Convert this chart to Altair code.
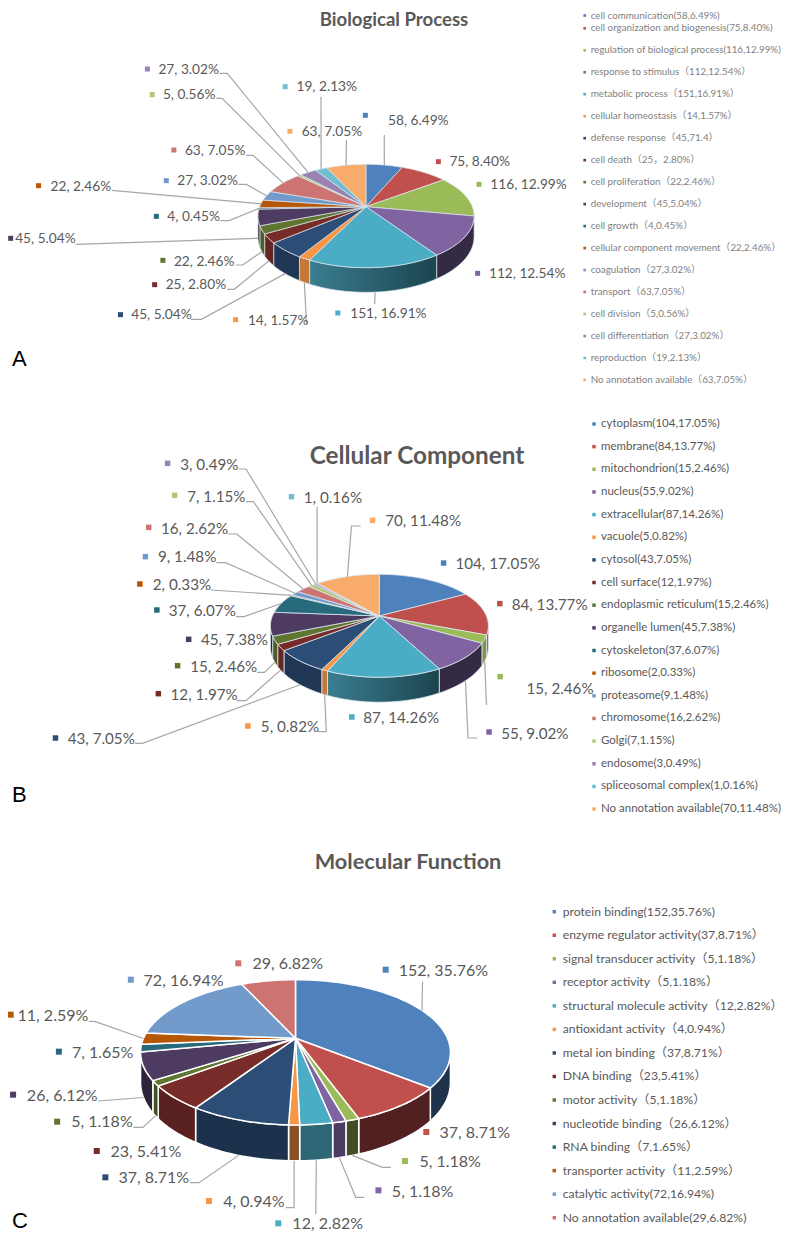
import math
import altair as alt
import pandas as pd

# ---------- data ----------
bp_names = ["cell communication(58,6.49%)", "cell organization and biogenesis(75,8.40%)",
            "regulation of biological process(116,12.99%)", "response to stimulus（112,12.54%）",
            "metabolic process（151,16.91%）", "cellular homeostasis（14,1.57%）",
            "defense response（45,71.4）", "cell death（25，2.80%）", "cell proliferation（22,2.46%）",
            "development（45,5.04%）", "cell growth（4,0.45%）", "cellular component movement（22,2.46%）",
            "coagulation（27,3.02%）", "transport（63,7.05%）", "cell division（5,0.56%）",
            "cell differentiation（27,3.02%）", "reproduction（19,2.13%）", "No annotation available（63,7.05%）"]
bp_values = [58, 75, 116, 112, 151, 14, 45, 25, 22, 45, 4, 22, 27, 63, 5, 27, 19, 63]
bp_pct = ["6.49", "8.40", "12.99", "12.54", "16.91", "1.57", "5.04", "2.80", "2.46", "5.04", "0.45",
          "2.46", "3.02", "7.05", "0.56", "3.02", "2.13", "7.05"]

cc_names = ["cytoplasm(104,17.05%)", "membrane(84,13.77%)", "mitochondrion(15,2.46%)", "nucleus(55,9.02%)",
            "extracellular(87,14.26%)", "vacuole(5,0.82%)", "cytosol(43,7.05%)", "cell surface(12,1.97%)",
            "endoplasmic reticulum(15,2.46%)", "organelle lumen(45,7.38%)", "cytoskeleton(37,6.07%)",
            "ribosome(2,0.33%)", "proteasome(9,1.48%)", "chromosome(16,2.62%)", "Golgi(7,1.15%)",
            "endosome(3,0.49%)", "spliceosomal complex(1,0.16%)", "No annotation available(70,11.48%)"]
cc_values = [104, 84, 15, 55, 87, 5, 43, 12, 15, 45, 37, 2, 9, 16, 7, 3, 1, 70]
cc_pct = ["17.05", "13.77", "2.46", "9.02", "14.26", "0.82", "7.05", "1.97", "2.46", "7.38", "6.07",
          "0.33", "1.48", "2.62", "1.15", "0.49", "0.16", "11.48"]

mf_names = ["protein binding(152,35.76%)", "enzyme regulator activity(37,8.71%）", "signal transducer activity（5,1.18%）",
            "receptor activity（5,1.18%）", "structural molecule activity（12,2.82%）", "antioxidant activity（4,0.94%）",
            "metal ion binding（37,8.71%）", "DNA binding（23,5.41%）", "motor activity（5,1.18%）",
            "nucleotide binding（26,6.12%）", "RNA binding（7,1.65%）", "transporter activity（11,2.59%）",
            "catalytic activity(72,16.94%)", "No annotation available(29,6.82%)"]
mf_values = [152, 37, 5, 5, 12, 4, 37, 23, 5, 26, 7, 11, 72, 29]
mf_pct = ["35.76", "8.71", "1.18", "1.18", "2.82", "0.94", "8.71", "5.41", "1.18", "6.12", "1.65", "2.59",
          "16.94", "6.82"]

# ---------- style ----------
palette = ["#4F81BD", "#C0504D", "#9BBB59", "#8064A2", "#4BACC6", "#F79646",
           "#2C4D75", "#772C2A", "#5F7530", "#4D3B62", "#276A7C", "#B65708",
           "#729ACA", "#CD7371", "#AFC97A", "#9983B5", "#6FBDD1", "#F9AB6B"]
FONT = "Lato, Noto Sans CJK SC"
GREY = "#595959"

# ---------- layout (label marker, label text, leader way-points) ----------
panels = [
    dict(names=bp_names, values=bp_values, pct=bp_pct, cx=366, ay=206.7, a=106.3, b=50, k=.18, D=20.2,
         xf=2.904, y0=0, size=13.7, edge="#dde6ee", ew=.7, msize=25, shade=[.8, .8, .8, .42, .6, .8, .72, .85, .8, .6, .6, .8],
         marks=[(1061,346),(1273,485),(1391,553),(1387,820),(981,939),(684,959),(350,944),(449,854),(473,781),(31,715),(454,649),(112,557),(483,542),(505,450),(442,284),(428,207),(828,260),(842,394)],
         texts=[(1127,363),(1305,487),(1424,555),(1420,821),(1017,941),(720,962),(381,946),(481,855),(505,785),(44,718),(486,651),(147,561),(515,544),(537,454),(473,286),(460,209),(861,262),(876,395)],
         leaders={0:[(1116,405)],4:[(1088,912)],5:[(890,972)],6:[(585,958),(555,958)],7:[(680,868),(660,868)],8:[(705,795),(685,795)],9:[(220,733)],10:[(665,662),(640,662)],11:[(325,571)],12:[(715,553),(692,553)],13:[(735,466),(715,466)],14:[(645,295),(628,295)],15:[(660,220),(638,220)],16:[(932,290)],17:[(1006,420)]},
         title="Biological Process", tx=394, ty=20, tsize=18.6, letter="A", ly=359,
         lx=584.7, ltx=590.7, ly0=6.3, lfirst=15.5, lstep=21.98, lsize=9.8, lcolor="#7f7f7f", lmsize=7),
    dict(names=cc_names, values=cc_values, pct=cc_pct, cx=379.4, ay=616, a=107, b=49.6, k=.19, D=20.2,
         xf=2.703, y0=410, size=15.2, edge="#dde6ee", ew=.8, msize=30, shade=[.8, .8, .8, .42, .6, .8, .72, .85, .8, .6, .6, .8],
         marks=[(1199,459),(1351,581),(1352,800),(1322,966),(951,921),(670,948),(150,984),(428,851),(480,767),(510,688),(424,600),(378,522),(393,440),(402,352),(472,256),(453,160),(788,260),(1007,331)],
         texts=[(1231,462),(1383,584),(1423,838),(1355,971),(982,925),(705,952),(183,987),(461,854),(514,771),(543,691),(456,603),(413,526),(427,441),(435,356),(506,260),(487,164),(821,263),(1041,334)],
         leaders={2:[(1315,885)],3:[(1265,984),(1290,984)],5:[(882,965),(860,965)],6:[(385,1000),(365,1000)],7:[(665,872),(640,872)],8:[(715,787),(695,787)],10:[(660,620),(638,620)],11:[(570,540)],12:[(610,458),(585,458)],13:[(640,372),(615,372)],14:[(685,275),(665,275)],15:[(665,177),(645,177)],16:[(857,290)],17:[(950,348),(975,348)]},
         title="Cellular Component", tx=417, ty=456.7, tsize=24.3, letter="B", ly=795,
         lx=594, ltx=601, ly0=424, lfirst=424, lstep=22.65, lsize=11.5, lcolor=GREY, lmsize=12),
    dict(names=mf_names, values=mf_values, pct=mf_pct, cx=295.5, ay=1038.3, a=152, b=69.9, k=.193, D=29,
         xf=2.904, y0=830, size=16, edge="#ffffff", ew=1.5, msize=36, shade=[.4, .42, .42, .6, .6, .55, .65, .75, .7, .6, .6, .6],
         marks=[(1120,419),(1238,906),(1176,993),(1099,1081),(808,1180),(607,1113),(306,1042),(281,963),(166,875),(38,794),(171,665),(31,554),(380,449),(692,400)],
         texts=[(1158,423),(1276,908),(1218,997),(1138,1086),(849,1182),(648,1117),(344,1044),(321,967),(207,877),(78,797),(209,669),(51,558),(417,454),(733,403)],
         leaders={0:[(1227,455)],2:[(1110,1012),(1135,1012)],3:[(1033,1102),(1058,1102)],4:[(917,1152)],5:[(854,1133),(830,1133)],6:[(578,1058),(552,1058)],8:[(415,892),(387,892)],9:[(285,813)],11:[(275,574),(258,574)]},
         title="Molecular Function", tx=408, ty=862, tsize=21.7, letter="C", ly=1221,
         lx=554.3, ltx=562.7, ly0=911.7, lfirst=911.7, lstep=23.54, lsize=12.2, lcolor=GREY, lmsize=12),
]

W, H = 774, 1225
X = alt.X("x:Q", scale=alt.Scale(domain=[8, 8 + W], range=[0, W], nice=False, zero=False), axis=None)
Y = alt.Y("y:Q", scale=alt.Scale(domain=[8, 8 + H], range=[0, H], nice=False, zero=False), axis=None)
layers = []


def project(p, theta):
    dx, dy = math.sin(theta), -math.cos(theta)
    d = 1 - p["k"] * dy
    return p["cx"] + p["a"] * dx / d, p["ay"] + p["b"] * dy / d, p["D"] / d


def poly(points, **mark):
    df = pd.DataFrame({"x": [q[0] for q in points], "y": [q[1] for q in points], "o": range(len(points))})
    return alt.Chart(df).mark_line(clip=False, **mark).encode(x=X, y=Y, order="o:Q")


def arc(t0, t1):
    n = max(2, int((t1 - t0) / 0.03) + 2)
    return [t0 + (t1 - t0) * i / (n - 1) for i in range(n)]


def darker(c, f):
    return "#%02x%02x%02x" % tuple(int(int(c[i:i + 2], 16) * f) for i in (1, 3, 5))


overlay = []
for pi, p in enumerate(panels):
    total = sum(p["values"])
    tr = math.acos(-p["k"])
    tl = 2 * math.pi - tr
    t = 0.0
    tops, walls, lead = [], [], []
    for i, v in enumerate(p["values"]):
        t0, t1 = t, t + v / total * 2 * math.pi
        t = t1
        col = palette[i % 18]
        rim = [project(p, q) for q in arc(t0, t1)]
        tops.append(poly([(p["cx"], p["ay"])] + [(r[0], r[1]) for r in rim] + [(p["cx"], p["ay"])],
                         fill=col, stroke=p["edge"], strokeWidth=p["ew"]))
        a0, a1 = max(t0, tr), min(t1, tl)
        if a1 > a0:
            rr = [project(p, q) for q in arc(a0, a1)]
            pts = [(r[0], r[1]) for r in rr] + [(r[0], r[1] + r[2]) for r in reversed(rr)]
            pts.append(pts[0])
            fill = darker(col, p["shade"][i % 12])
            if pi < 2 and i == 4:
                fill = alt.Gradient(gradient="linear", x1=0, x2=1, y1=0, y2=0,
                                    stops=[alt.GradientStop(offset=0, color="#3B7D90"),
                                           alt.GradientStop(offset=1, color="#1B454F")])
            walls.append(poly(pts, fill=fill, stroke=p["edge"], strokeWidth=p["ew"]))
        if i in p["leaders"]:
            mid = (t0 + t1) / 2
            sx, sy, dz = project(p, mid)
            if tr < mid < tl:
                sy += dz
            pts = [(sx, sy)] + [(q[0] / p["xf"], p["y0"] + q[1] / 3) for q in p["leaders"][i]]
            lead.append(poly(pts, stroke="#a6a6a6", strokeWidth=1.2))
    layers += walls + tops
    overlay += lead

    n = len(p["values"])
    xf, y0 = p["xf"], p["y0"]
    labels = pd.DataFrame({"x": [q[0] / xf for q in p["texts"]], "y": [y0 + q[1] / 3 for q in p["texts"]],
                           "t": [f"{v}, {s}%" for v, s in zip(p["values"], p["pct"])]})
    overlay.append(alt.Chart(labels).mark_text(align="left", baseline="middle", font=FONT, fontSize=p["size"], color=GREY)
                   .encode(x=X, y=Y, text="t:N"))
    leg_y = [p["lfirst"]] + [p["ly0"] + i * p["lstep"] for i in range(1, n)]
    for i in range(n):
        q = p["marks"][i]
        overlay.append(alt.Chart(pd.DataFrame({"x": [q[0] / xf], "y": [y0 + q[1] / 3]}))
                       .mark_square(size=p["msize"], color=palette[i % 18], opacity=1).encode(x=X, y=Y))
        lg = pd.DataFrame({"x": [p["lx"]], "y": [leg_y[i]]})
        overlay.append(alt.Chart(lg).mark_square(size=p["lmsize"], color=palette[i % 18], opacity=1).encode(x=X, y=Y))
    legend = pd.DataFrame({"x": [p["ltx"]] * n, "y": leg_y, "t": p["names"]})
    overlay.append(alt.Chart(legend).mark_text(align="left", baseline="middle", font=FONT, fontSize=p["lsize"], color=p["lcolor"])
                   .encode(x=X, y=Y, text="t:N"))
    overlay.append(alt.Chart(pd.DataFrame({"x": [p["tx"]], "y": [p["ty"]], "t": [p["title"]]}))
                   .mark_text(align="center", baseline="middle", font=FONT, fontWeight="bold", fontSize=p["tsize"], color=GREY)
                   .encode(x=X, y=Y, text="t:N"))
    overlay.append(alt.Chart(pd.DataFrame({"x": [12], "y": [p["ly"]], "t": [p["letter"]]}))
                   .mark_text(align="left", baseline="middle", font="Liberation Sans", fontSize=22, color="#000000")
                   .encode(x=X, y=Y, text="t:N"))

chart = alt.layer(*(layers + overlay)).properties(
    width=W, height=H, padding=0, autosize=alt.AutoSizeParams(type="none"), background="#ffffff"
).configure_view(stroke=None)

chart.save("out.html", embed_options={"renderer": "svg", "actions": False})
